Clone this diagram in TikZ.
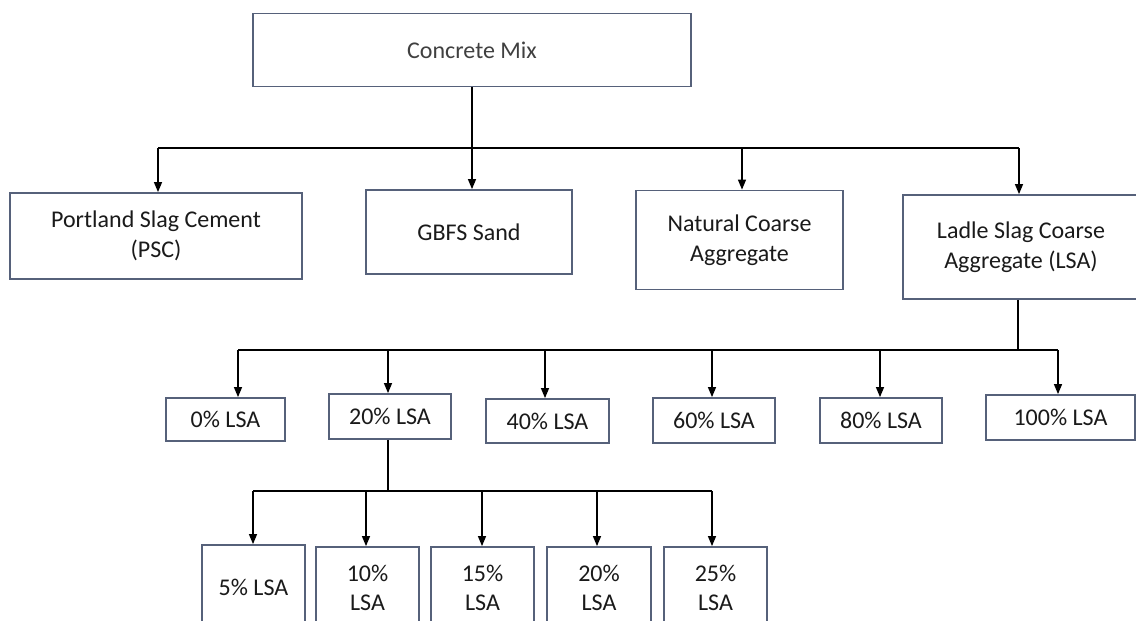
\documentclass[tikz,border=0pt]{standalone}
\usepackage{fontspec}
\setmainfont{Carlito}
\usetikzlibrary{arrows.meta}
\definecolor{boxline}{HTML}{56617A}
\definecolor{txt}{HTML}{1A1A1A}
\definecolor{txtgray}{HTML}{404040}
\tikzset{
  box/.style={draw=boxline, line width=1.8pt, fill=white, inner sep=0pt, align=center,
    font=\fontsize{24}{29.5}\selectfont, text=txt},
  bus/.style={draw=black, line width=1.8pt},
  link/.style={draw=black, line width=1.3pt},
  arr/.style={link, -{Triangle[length=10pt,width=8pt]}},
}
\begin{document}
\begin{tikzpicture}[x=1pt,y=-1pt]
\useasboundingbox (0,0) rectangle (1136,621);
\clip (0,0) rectangle (1136,621);
% top
\node[box, minimum width=438pt, minimum height=73pt, text=txtgray] (cm) at (472,50) {Concrete Mix};
% row 2
\node[box, minimum width=292pt, minimum height=86pt] (psc) at (156,236) {Portland Slag Cement\\(PSC)};
\node[box, minimum width=206pt, minimum height=84pt] (gbfs) at (469,232) {GBFS Sand};
\node[box, minimum width=207pt, minimum height=99pt] (nca) at (739.5,240) {Natural Coarse\\Aggregate};
\node[box, minimum width=236pt, minimum height=104pt] (lsa) at (1021,247) {Ladle Slag Coarse\\Aggregate (LSA)};
% row 3
\node[box, minimum width=119pt, minimum height=43pt] (l0) at (225.5,419.5) {0\% LSA};
\node[box, minimum width=122pt, minimum height=45pt] (l20) at (390,416.5) {20\% LSA};
\node[box, minimum width=123pt, minimum height=44pt] (l40) at (547.5,421) {40\% LSA};
\node[box, minimum width=122pt, minimum height=45pt] (l60) at (714,420.5) {60\% LSA};
\node[box, minimum width=122pt, minimum height=45pt] (l80) at (881,420.5) {80\% LSA};
\node[box, minimum width=149pt, minimum height=45pt] (l100) at (1060.5,417.5) {100\% LSA};
% row 4
\node[box, minimum width=103pt, minimum height=84pt] (s5) at (253.5,587) {5\% LSA};
\node[box, minimum width=103pt, minimum height=82pt] (s10) at (367.5,588) {10\%\\LSA};
\node[box, minimum width=103pt, minimum height=82pt] (s15) at (482.5,588) {15\%\\LSA};
\node[box, minimum width=104pt, minimum height=82pt] (s20) at (599,588) {20\%\\LSA};
\node[box, minimum width=103pt, minimum height=82pt] (s25) at (715.5,588) {25\%\\LSA};
% bus coordinates
\coordinate (b1L) at (158,148);
\coordinate (b1R) at (1019,148);
\coordinate (b1c) at (472,148);
\coordinate (b1n) at (742,148);
\coordinate (b2L) at (238,350);
\coordinate (b2R) at (1058,350);
\coordinate (b2c) at (1018,350);
\coordinate (t20) at (388,350);
\coordinate (t40) at (545,350);
\coordinate (t60) at (712,350);
\coordinate (t80) at (880,350);
\coordinate (b3L) at (253,491);
\coordinate (b3R) at (712,491);
\coordinate (b3c) at (388,491);
\coordinate (u10) at (366,491);
\coordinate (u15) at (482,491);
\coordinate (u20) at (597,491);
% level 1
\draw[link] (cm.south -| b1c) -- (b1c);
\draw[bus] (b1L) -- (b1R);
\draw[arr] (b1L) -- (b1L |- psc.north);
\draw[arr] (b1c) -- (b1c |- gbfs.north);
\draw[arr] (b1n) -- (b1n |- nca.north);
\draw[arr] (b1R) -- (b1R |- lsa.north);
% level 2
\draw[link] (lsa.south -| b2c) -- (b2c);
\draw[bus] (b2L) -- (b2R);
\draw[arr] (b2L) -- (b2L |- l0.north);
\draw[arr] (t20) -- (t20 |- l20.north);
\draw[arr] (t40) -- (t40 |- l40.north);
\draw[arr] (t60) -- (t60 |- l60.north);
\draw[arr] (t80) -- (t80 |- l80.north);
\draw[arr] (b2R) -- (b2R |- l100.north);
% level 3
\draw[link] (l20.south -| b3c) -- (b3c);
\draw[bus] (b3L) -- (b3R);
\draw[arr] (b3L) -- (b3L |- s5.north);
\draw[arr] (u10) -- (u10 |- s10.north);
\draw[arr] (u15) -- (u15 |- s15.north);
\draw[arr] (u20) -- (u20 |- s20.north);
\draw[arr] (b3R) -- (b3R |- s25.north);
\end{tikzpicture}
\end{document}
